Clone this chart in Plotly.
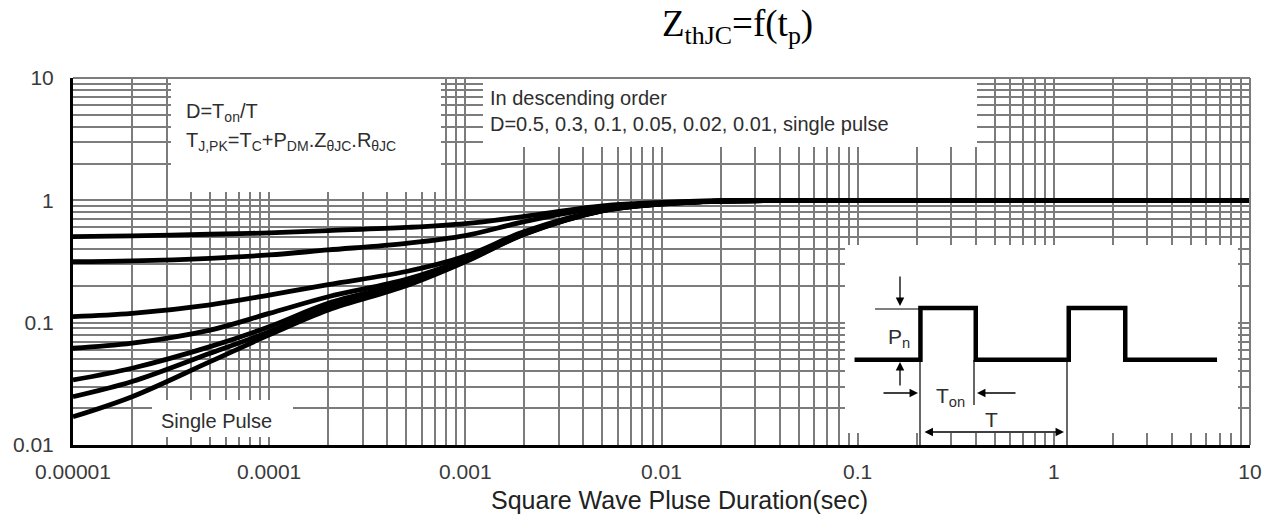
import plotly.graph_objects as go

# ---------------- data ----------------
t_pulse = [1e-5, 2e-5, 5e-5, 1e-4, 2e-4, 5e-4, 1e-3, 2e-3, 5e-3, 1e-2, 2e-2, 5e-2, 1e-1, 1, 10]
z_d050 = [0.505, 0.512, 0.528, 0.542, 0.566, 0.600, 0.645, 0.740, 0.900, 0.962, 0.993, 1.0, 1.0, 1.0, 1.0]
z_d030 = [0.315, 0.320, 0.336, 0.358, 0.393, 0.445, 0.515, 0.670, 0.875, 0.952, 0.990, 1.0, 1.0, 1.0, 1.0]
z_d010 = [0.112, 0.119, 0.140, 0.168, 0.205, 0.262, 0.350, 0.555, 0.835, 0.940, 0.986, 1.0, 1.0, 1.0, 1.0]
z_d005 = [0.0618, 0.068, 0.087, 0.119, 0.163, 0.226, 0.330, 0.540, 0.828, 0.936, 0.985, 1.0, 1.0, 1.0, 1.0]
z_d002 = [0.034, 0.0424, 0.0637, 0.0927, 0.144, 0.213, 0.322, 0.533, 0.824, 0.934, 0.984, 1.0, 1.0, 1.0, 1.0]
z_d001 = [0.0248, 0.033, 0.0562, 0.0844, 0.135, 0.207, 0.318, 0.530, 0.822, 0.933, 0.984, 1.0, 1.0, 1.0, 1.0]
z_single = [0.017, 0.0248, 0.048, 0.0794, 0.127, 0.200, 0.314, 0.527, 0.820, 0.932, 0.983, 1.0, 1.0, 1.0, 1.0]
series = [z_d050, z_d030, z_d010, z_d005, z_d002, z_d001, z_single]
series_names = ["D=0.5", "D=0.3", "D=0.1", "D=0.05", "D=0.02", "D=0.01", "single pulse"]

x_decades = [1e-5, 1e-4, 1e-3, 1e-2, 1e-1, 1, 10]
x_decade_labels = ["0.00001", "0.0001", "0.001", "0.01", "0.1", "1", "10"]
y_decades = [0.01, 0.1, 1, 10]
y_decade_labels = ["0.01", "0.1", "1", "10"]

# schematic square-wave inset (position in plot-area fractions)
wave_x = [0.664, 0.720, 0.720, 0.767, 0.767, 0.846, 0.846, 0.894, 0.894, 0.972]
wave_y = [0.232, 0.232, 0.373, 0.373, 0.232, 0.232, 0.373, 0.373, 0.232, 0.232]

# ---------------- geometry ----------------
W, H = 1269, 525
L, R, T, B = 73, 1250, 78, 445


def fx(px):
    return (px - L) / (R - L)


def fy(py):
    return (B - py) / (B - T)


def xdata(px):
    return 10 ** (-5 + 6 * fx(px))


def ydata(py):
    return 10 ** (-2 + 3 * fy(py))


def minor_vals(decades):
    return [d * k for d in decades[:-1] for k in range(2, 10)]


GRID = "#7c7c7c"
TXT = "#2e2e2e"
SANS = "Liberation Sans, Arial, sans-serif"

fig = go.Figure()

# white panels that hide the grid behind the labels (drawn above grid, below curves)
for x0, x1, y0, y1 in [(171, 441, 79, 192), (483, 977, 79, 147), (845, 1238, 245, 433), (152, 293, 400, 437)]:
    fig.add_trace(go.Scatter(x=[xdata(x0), xdata(x1), xdata(x1), xdata(x0), xdata(x0)],
                             y=[ydata(y1), ydata(y1), ydata(y0), ydata(y0), ydata(y1)],
                             mode="lines", fill="toself", fillcolor="white",
                             line=dict(width=0, color="white"), hoverinfo="skip"))

for s, n in zip(series, series_names):
    fig.add_trace(go.Scatter(x=t_pulse, y=s, mode="lines", name=n,
                             line=dict(color="black", width=4.8, shape="spline", smoothing=1.0),
                             hoverinfo="skip"))

fig.add_trace(go.Scatter(x=wave_x, y=wave_y, xaxis="x2", yaxis="y2", mode="lines",
                         line=dict(color="black", width=4.5), hoverinfo="skip"))

shapes = []
# top and right border
shapes.append(dict(type="line", xref="x domain", yref="y domain", x0=0, x1=1, y0=1, y1=1,
                   line=dict(color=GRID, width=2), layer="above"))
shapes.append(dict(type="line", xref="x domain", yref="y domain", x0=1, x1=1, y0=0, y1=1,
                   line=dict(color=GRID, width=2), layer="above"))
# thin schematic lines
for x0, y0, x1, y1 in [(875, 309, 921, 309), (920, 360, 920, 447), (974, 360, 974, 405),
                       (1067, 360, 1067, 447)]:
    shapes.append(dict(type="line", xref="x domain", yref="y domain", layer="above",
                       x0=fx(x0), y0=fy(y0), x1=fx(x1), y1=fy(y1),
                       line=dict(color="black", width=1.2)))

ann = []


def txt(px, py, s, size=20, anchor="left", color=TXT, family=SANS):
    ann.append(dict(xref="x domain", yref="y domain", x=fx(px), y=fy(py), text=s,
                    showarrow=False, xanchor=anchor, yanchor="middle",
                    font=dict(size=size, color=color, family=family)))


txt(184, 113, "D=T<sub>on</sub>/T")
txt(184, 141, "T<sub>J,PK</sub>=T<sub>C</sub>+P<sub>DM</sub>.Z<sub>θJC</sub>.R<sub>θJC</sub>")
txt(488, 98, "In descending order")
txt(488, 124, "D=0.5, 0.3, 0.1, 0.05, 0.02, 0.01, single pulse")
txt(159, 421, "Single Pulse")
txt(886, 338, "P<sub>n</sub>", size=21)
txt(934, 397, "T<sub>on</sub>", size=21)
txt(983, 419, "T", size=21)
# x-axis title
txt(679, 500, "Square Wave Pluse Duration(sec)", size=25, anchor="center", color="#222222")


def arrow(px, py, dx, dy, both=False):
    ann.append(dict(xref="x domain", yref="y domain", x=fx(px), y=fy(py), ax=dx, ay=dy,
                    axref="pixel", ayref="pixel", text="", showarrow=True,
                    arrowhead=2, arrowsize=1.3, arrowwidth=1.3, arrowcolor="black",
                    arrowside="end+start" if both else "end", standoff=0, startstandoff=0))


arrow(900, 306, 0, -31)
arrow(900, 362, 0, 25)
arrow(918, 393, -36, 0)
arrow(977, 393, 40, 0)
arrow(1064, 432, -141, 0, both=True)

grid_minor = dict(showgrid=True, gridcolor=GRID, gridwidth=2, ticks="")
fig.update_layout(
    width=W, height=H, autosize=False,
    margin=dict(l=L, r=W - R, t=T, b=H - B, autoexpand=False),
    paper_bgcolor="white", plot_bgcolor="white",
    showlegend=False,
    title=dict(text="Z<sub>thJC</sub>=f(t<sub>p</sub>)", x=662 / W, xanchor="left",
               y=1 - 23 / H, yanchor="middle",
               font=dict(family="Liberation Serif, Times New Roman, serif", size=37, color="black")),
    xaxis=dict(type="log", range=[-5, 1], tickvals=x_decades, ticktext=x_decade_labels,
               minor=dict(tickvals=minor_vals(x_decades), **grid_minor), automargin=False,
               showgrid=True, gridcolor=GRID, gridwidth=2, showline=True, linecolor="black",
               linewidth=3, ticks="", zeroline=False, ticklabelstandoff=6,
               tickfont=dict(family=SANS, size=21, color="#3a3a3a")),
    yaxis=dict(type="log", range=[-2, 1], tickvals=y_decades, ticktext=y_decade_labels,
               minor=dict(tickvals=minor_vals(y_decades), **grid_minor), automargin=False,
               showgrid=True, gridcolor=GRID, gridwidth=2, showline=True, linecolor="black",
               linewidth=3, ticks="", zeroline=False, ticklabelstandoff=12,
               tickfont=dict(family=SANS, size=21, color="#3a3a3a")),
    xaxis2=dict(overlaying="x", range=[0, 1], visible=False, fixedrange=True),
    yaxis2=dict(overlaying="y", range=[0, 1], visible=False, fixedrange=True),
    shapes=shapes, annotations=ann,
)

fig.write_html("out.html")
